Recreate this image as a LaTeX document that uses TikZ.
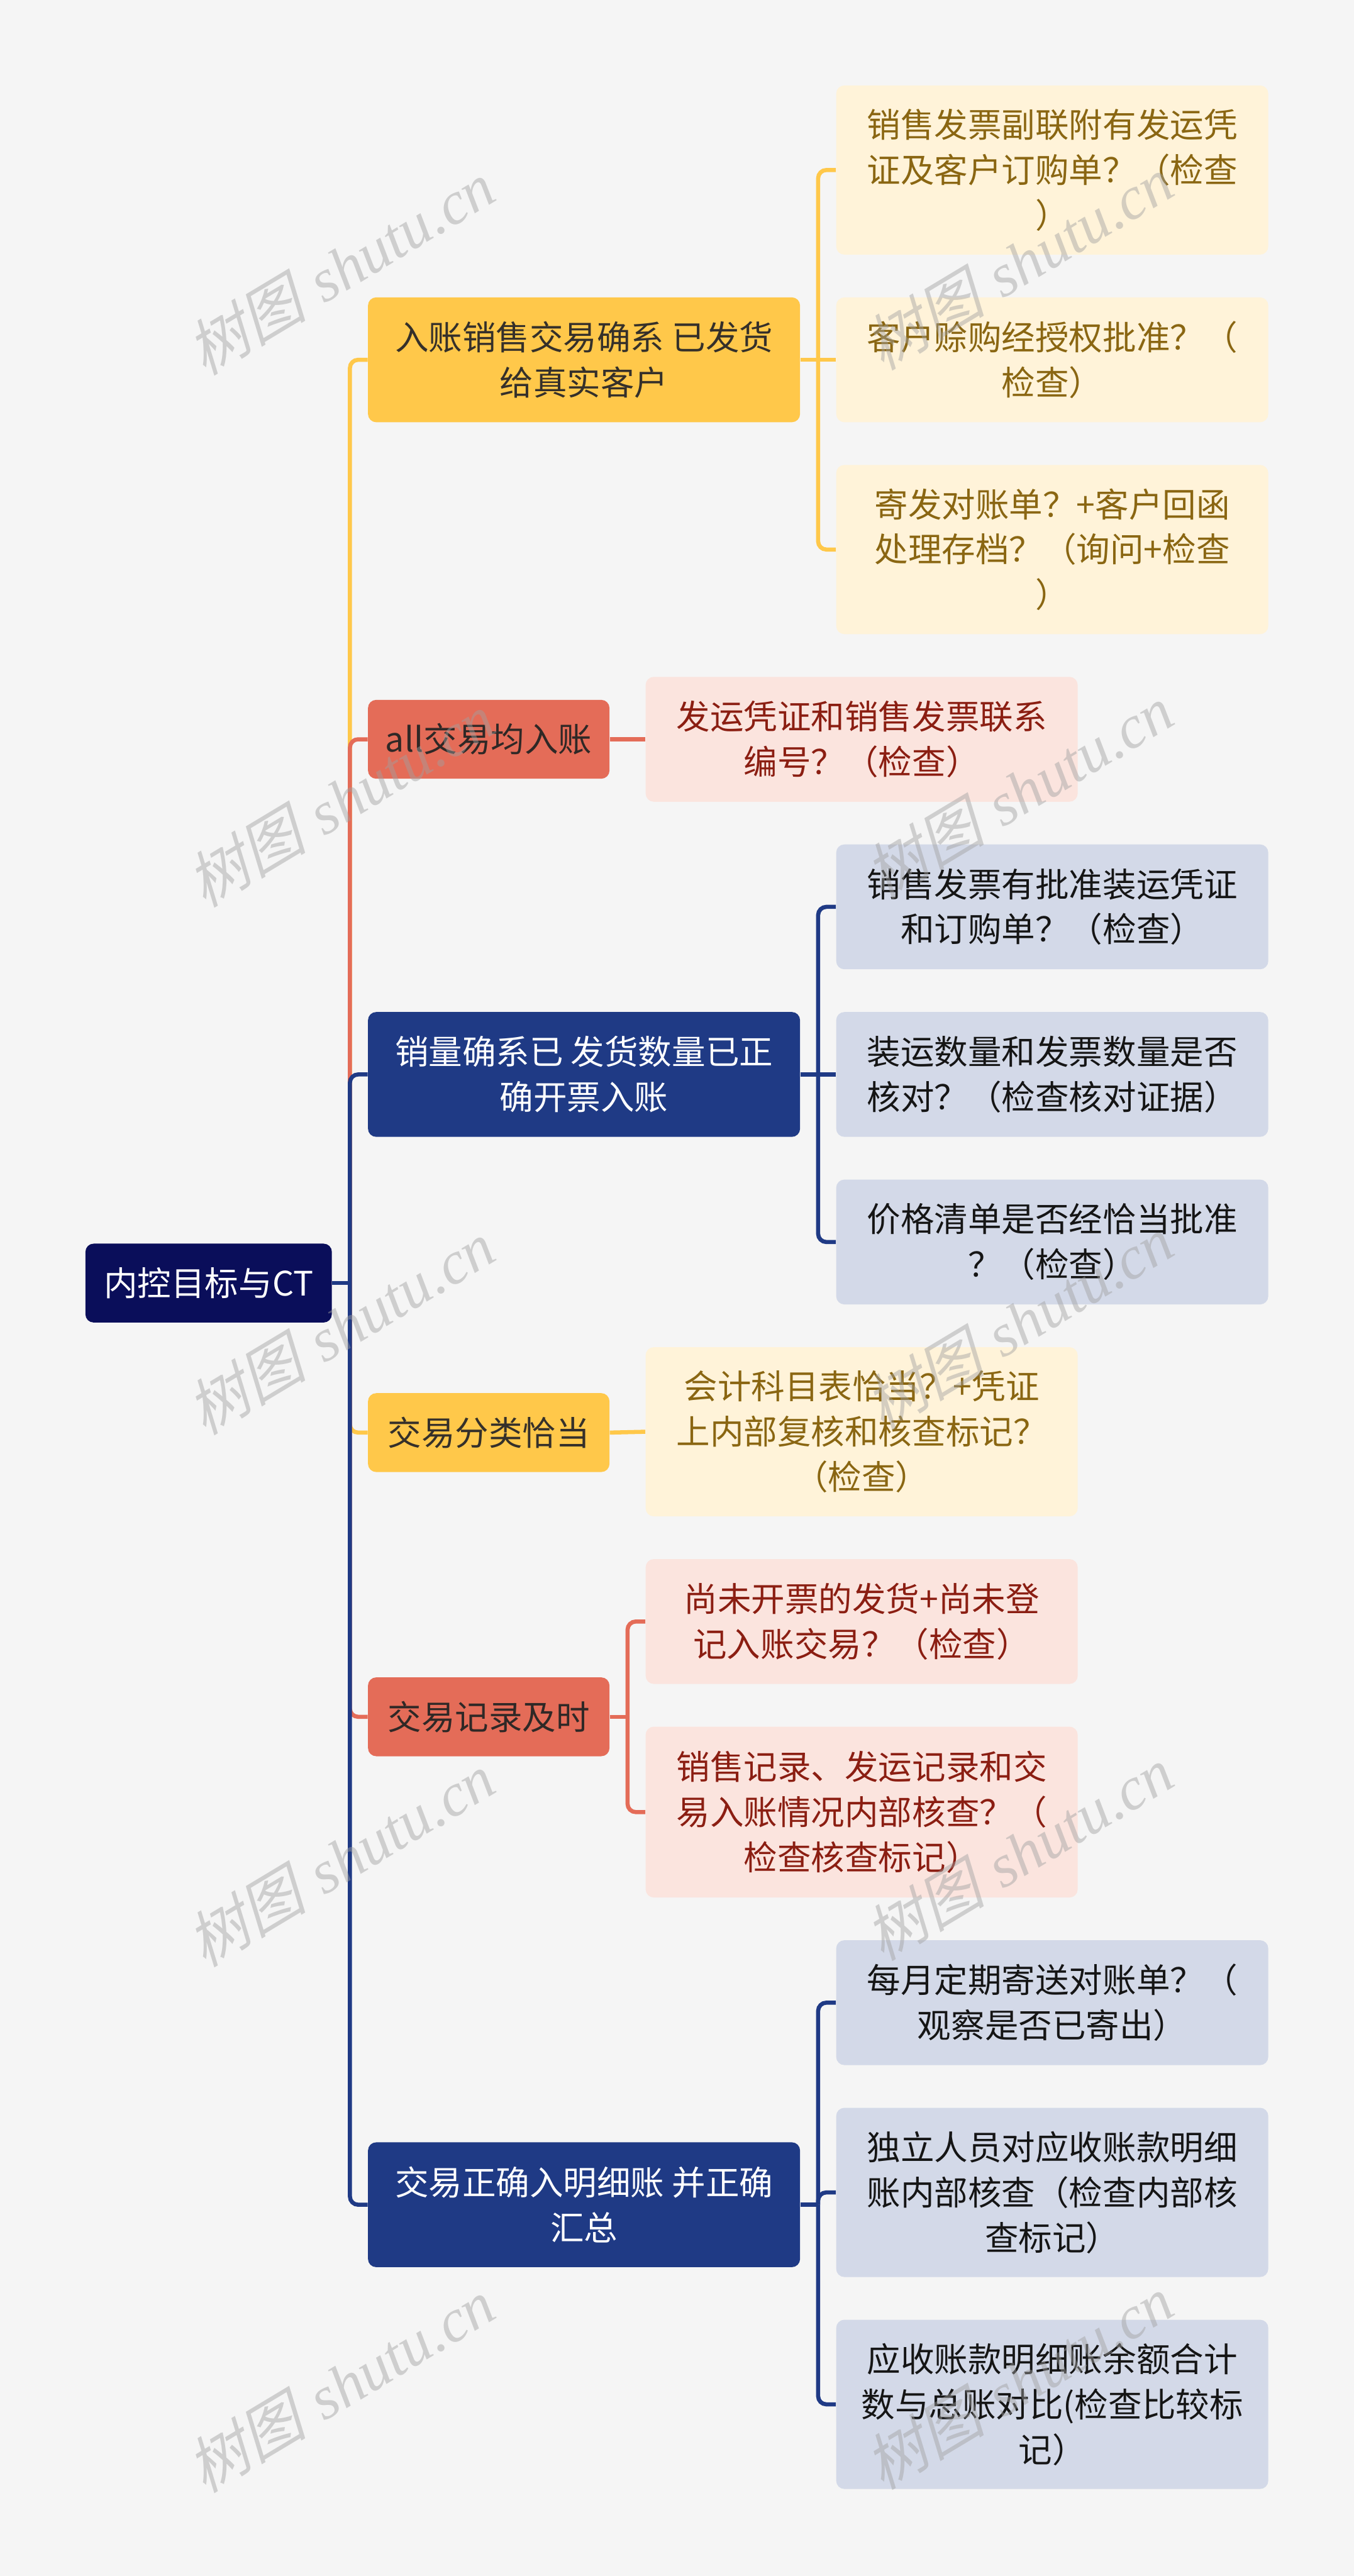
\documentclass[tikz,border=0pt]{standalone}
\usepackage{fontspec}
\newfontfamily\cjk{Noto Sans CJK SC}
\newfontfamily\wmcjk{Noto Sans CJK SC}[FakeSlant=0.25]
\newfontfamily\wmlat{Liberation Serif}
\definecolor{cbg}{HTML}{F5F5F5}
\definecolor{croot}{HTML}{0A0E5A}
\definecolor{cnavy}{HTML}{1F3A85}
\definecolor{cyel}{HTML}{FFC84A}
\definecolor{cora}{HTML}{E46C58}
\definecolor{lyel}{HTML}{FFF3D9}
\definecolor{lora}{HTML}{FBE4DE}
\definecolor{lnavy}{HTML}{D3D9E8}
\definecolor{tyel}{HTML}{8A6612}
\definecolor{tora}{HTML}{8B1E12}
\definecolor{tnavy}{HTML}{151515}
\definecolor{tyelL}{HTML}{35302A}
\definecolor{toraL}{HTML}{2F2826}
\definecolor{cwm}{HTML}{A0A0A0}
\pgfdeclarelayer{bg}
\pgfdeclarelayer{fg}
\pgfsetlayers{bg,main,fg}
\tikzset{
  base/.style={rounded corners=5pt, align=center, inner sep=0pt, anchor=center,
    font=\cjk\fontsize{20.5}{27.5}\selectfont},
  rootbox/.style={base, fill=croot, text=white, minimum width=150pt, minimum height=48pt},
  yelL/.style={base, fill=cyel, text=tyelL},
  oraL/.style={base, fill=cora, text=toraL},
  navL/.style={base, fill=cnavy, text=white},
  yelS/.style={base, fill=lyel, text=tyel, minimum width=263pt},
  oraS/.style={base, fill=lora, text=tora, minimum width=263pt},
  navS/.style={base, fill=lnavy, text=tnavy, minimum width=263pt},
  wide/.style={minimum width=263pt, minimum height=76pt},
  small/.style={minimum width=147pt, minimum height=48pt},
  cy/.style={draw=cyel, line width=2.5pt, rounded corners=5pt},
  co/.style={draw=cora, line width=2.5pt, rounded corners=5pt},
  cn/.style={draw=cnavy, line width=2.5pt, rounded corners=5pt},
  wm/.style={text=cwm, text opacity=0.45, rotate=31, inner sep=0pt,
    font=\fontsize{37}{40}\selectfont},
}
\begin{document}
\begin{tikzpicture}[x=1pt,y=-1pt]
\begin{pgfonlayer}{bg}
\fill[cbg] (0,0) rectangle (824,1568);
\end{pgfonlayer}
\useasboundingbox (0,0) rectangle (824,1568);

% root and level 1
\node[rootbox] (root) at (127,781) {内控目标与CT};
\node[yelL, wide] (n1) at (355.5,219) {入账销售交易确系 已发货\\给真实客户};
\node[oraL, small] (n2) at (297.5,450) {all交易均入账};
\node[navL, wide] (n3) at (355.5,654) {销量确系已 发货数量已正\\确开票入账};
\node[yelL, small] (n4) at (297.5,872) {交易分类恰当};
\node[oraL, small] (n5) at (297.5,1045) {交易记录及时};
\node[navL, wide] (n6) at (355.5,1342) {交易正确入明细账 并正确\\汇总};

% level 2
\node[yelS, minimum height=103pt] (a1) at (640.5,103.5) {销售发票副联附有发运凭\\证及客户订购单？（检查\\）};
\node[yelS, minimum height=76pt] (a2) at (640.5,219) {客户赊购经授权批准？（\\检查）};
\node[yelS, minimum height=103pt] (a3) at (640.5,334.5) {寄发对账单？+客户回函\\处理存档？（询问+检查\\）};
\node[oraS, minimum height=76pt] (b1) at (524.5,450) {发运凭证和销售发票联系\\编号？（检查）};
\node[navS, minimum height=76pt] (c1) at (640.5,552) {销售发票有批准装运凭证\\和订购单？（检查）};
\node[navS, minimum height=76pt] (c2) at (640.5,654) {装运数量和发票数量是否\\核对？（检查核对证据）};
\node[navS, minimum height=76pt] (c3) at (640.5,756) {价格清单是否经恰当批准\\？（检查）};
\node[yelS, minimum height=103pt] (d1) at (524.5,871.5) {会计科目表恰当？+凭证\\上内部复核和核查标记？\\（检查）};
\node[oraS, minimum height=76pt] (e1) at (524.5,987) {尚未开票的发货+尚未登\\记入账交易？（检查）};
\node[oraS, minimum height=104pt] (e2) at (524.5,1103) {销售记录、发运记录和交\\易入账情况内部核查？（\\检查核查标记）};
\node[navS, minimum height=76pt] (f1) at (640.5,1219) {每月定期寄送对账单？（\\观察是否已寄出）};
\node[navS, minimum height=103pt] (f2) at (640.5,1334.5) {独立人员对应收账款明细\\账内部核查（检查内部核\\查标记）};
\node[navS, minimum height=103pt] (f3) at (640.5,1463.5) {应收账款明细账余额合计\\数与总账对比(检查比较标\\记）};

% junctions
\coordinate (rj) at (213,781);
\coordinate (j1) at (498,219);
\coordinate (j3) at (498,654);
\coordinate (j5) at (382,1045);
\coordinate (j6) at (498,1342);

\begin{pgfonlayer}{bg}
% root to level 1
\draw[cn] (root.east) -- (rj);
\draw[cy] (rj) |- (n1.west);
\draw[co] (rj) |- (n2.west);
\draw[cn] (rj) |- (n3.west);
\draw[cy] (rj) |- (n4.west);
\draw[co] (rj) |- (n5.west);
\draw[cn] (rj) |- (n6.west);
% level 1 to level 2
\draw[cy] (n1.east) -- (j1);
\draw[cy] (j1) |- (a1.west);
\draw[cy] (j1) -- (a2.west);
\draw[cy] (j1) |- (a3.west);
\draw[co] (n2.east) -- (b1.west);
\draw[cn] (n3.east) -- (j3);
\draw[cn] (j3) |- (c1.west);
\draw[cn] (j3) -- (c2.west);
\draw[cn] (j3) |- (c3.west);
\draw[cy] (n4.east) -- (d1.west);
\draw[co] (n5.east) -- (j5);
\draw[co] (j5) |- (e1.west);
\draw[co] (j5) |- (e2.west);
\draw[cn] (n6.east) -- (j6);
\draw[cn] (j6) |- (f1.west);
\draw[cn] (j6) |- (f2.west);
\draw[cn] (j6) |- (f3.west);
\end{pgfonlayer}

% watermarks
\begin{pgfonlayer}{fg}
\foreach \i/\x/\y in {1/207/163, 2/207/487, 3/207/808, 4/207/1132, 5/207/1452,
                       6/620/160, 7/620/482, 8/620/805, 9/620/1128, 10/620/1450}{
  \node[wm] (wm\i) at (\x,\y) {{\wmcjk 树图} {\wmlat\itshape shutu.cn}};
}
\end{pgfonlayer}
\end{tikzpicture}
\end{document}
